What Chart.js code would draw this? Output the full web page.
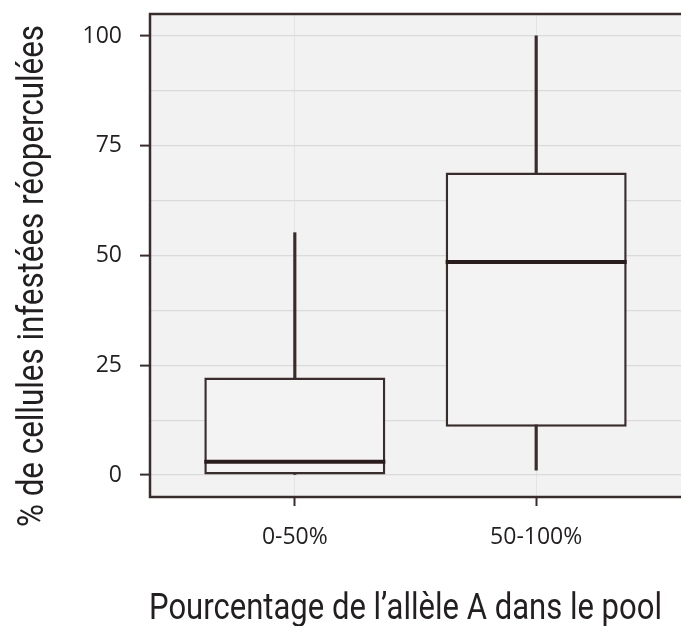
<!DOCTYPE html>
<html>
<head>
<meta charset="utf-8">
<script src="https://cdn.jsdelivr.net/npm/chart.js@4.4.1/dist/chart.umd.min.js"></script>
<style>
  html, body { margin: 0; padding: 0; background: #fff; overflow: hidden; }
</style>
</head>
<body>
<canvas id="chart" width="681" height="626"></canvas>
<script>
// ── Data ──────────────────────────────────────────
const categories = ['0-50%', '50-100%'];
const positions = [1, 2];
const whiskerLow = [0, 1.1];
const boxLow = [0, 11];
const medians = [3, 48.5];
const boxHigh = [22.2, 68.9];
const whiskerHigh = [55.2, 100];
const yMajorTicks = [0, 25, 50, 75, 100];
const yMinorTicks = [12.5, 37.5, 62.5, 87.5];
const yTitle = '% de cellules infestées réoperculées';
const xTitle = 'Pourcentage de l’allèle A dans le pool';

const COLORS = {
    panel: '#f2f2f2',
    grid: '#dadada',
    gridV: '#e4e4e4',
    ink: '#3a2c2d',
    median: '#2a1c1d',
    text: '#231f20',
    boxFill: '#f3f3f3'
};

// ── Plugin: panel, medians, border, axis titles ───
function drawFitted(ctx, text, x, y, width, angle) {
    ctx.save();
    ctx.font = '400 36px Roboto, "Liberation Sans Narrow", sans-serif';
    const w = ctx.measureText(text).width;
    ctx.translate(x, y);
    ctx.rotate(angle);
    ctx.scale(width / w, 1);
    ctx.textAlign = 'center';
    ctx.textBaseline = 'alphabetic';
    ctx.fillStyle = COLORS.text;
    ctx.fillText(text, 0, 0);
    ctx.restore();
}

const boxplotDecor = {
    id: 'boxplotDecor',
    beforeDraw(chart) {
        const { ctx, chartArea: a } = chart;
        ctx.save();
        ctx.fillStyle = COLORS.panel;
        ctx.fillRect(a.left, a.top, a.right - a.left, a.bottom - a.top);
        ctx.restore();
    },
    afterDatasetsDraw(chart) {
        const { ctx } = chart;
        const y = chart.scales.y;
        const meta = chart.getDatasetMeta(1);
        ctx.save();
        ctx.strokeStyle = COLORS.median;
        ctx.lineWidth = 4;
        meta.data.forEach((el, i) => {
            const py = y.getPixelForValue(medians[i]);
            ctx.beginPath();
            ctx.moveTo(el.x - el.width / 2, py);
            ctx.lineTo(el.x + el.width / 2, py);
            ctx.stroke();
        });
        ctx.restore();
    },
    afterDraw(chart) {
        const { ctx, chartArea: a } = chart;
        ctx.save();
        ctx.strokeStyle = COLORS.ink;
        ctx.lineWidth = 2.5;
        ctx.strokeRect(a.left, a.top, a.right - a.left + 4, a.bottom - a.top);
        ctx.restore();
        drawFitted(ctx, xTitle, 405.5, 619, 513, 0);
        drawFitted(ctx, yTitle, 43, 276, 502, -Math.PI / 2);
    }
};

// ── Chart ─────────────────────────────────────────
const tickFont = { family: "'Open Sans', sans-serif", size: 23 };

function clearPadding(s) {
    s.paddingTop = 0;
    s.paddingBottom = 0;
    s.paddingLeft = 0;
    s.paddingRight = 0;
}

new Chart(document.getElementById('chart'), {
    type: 'bar',
    data: {
        datasets: [
            {
                label: 'whiskers',
                data: positions.map((x, i) => ({ x, y: [whiskerLow[i], whiskerHigh[i]] })),
                backgroundColor: COLORS.ink,
                barThickness: 2.5,
                grouped: false,
                order: 2
            },
            {
                label: 'boxes',
                data: positions.map((x, i) => ({ x, y: [boxLow[i], boxHigh[i]] })),
                backgroundColor: COLORS.boxFill,
                borderColor: COLORS.ink,
                borderWidth: 2.5,
                borderSkipped: false,
                categoryPercentage: 1,
                barPercentage: 0.75,
                grouped: false,
                order: 1
            }
        ]
    },
    options: {
        responsive: false,
        animation: false,
        layout: { padding: { top: 14, right: 0, bottom: 0, left: 0 } },
        plugins: {
            legend: { display: false },
            tooltip: { enabled: false }
        },
        scales: {
            x: {
                type: 'linear',
                min: 0.4,
                max: 2.6,
                offset: false,
                afterBuildTicks: s => { s.ticks = positions.map(v => ({ value: v })); },
                afterFit: s => { s.height = 129; clearPadding(s); },
                border: { display: false },
                grid: {
                    offset: false,
                    color: COLORS.gridV,
                    lineWidth: 1,
                    tickLength: 9,
                    tickColor: COLORS.ink,
                    tickWidth: 2
                },
                ticks: {
                    autoSkip: false,
                    maxRotation: 0,
                    padding: 18,
                    font: tickFont,
                    color: COLORS.text,
                    callback: v => categories[positions.indexOf(v)]
                }
            },
            y: {
                min: -5,
                max: 105,
                afterBuildTicks: s => {
                    s.ticks = yMajorTicks.concat(yMinorTicks)
                        .sort((a, b) => a - b)
                        .map(v => ({ value: v }));
                },
                afterFit: s => { s.width = 150; clearPadding(s); },
                border: { display: false },
                grid: {
                    color: COLORS.grid,
                    lineWidth: 1.2,
                    tickLength: 10,
                    tickWidth: 2,
                    tickColor: c => yMajorTicks.includes(c.tick.value) ? COLORS.ink : 'rgba(0,0,0,0)'
                },
                ticks: {
                    autoSkip: false,
                    padding: 18,
                    font: tickFont,
                    color: COLORS.text,
                    callback: v => yMajorTicks.includes(v) ? String(v) : ''
                }
            }
        }
    },
    plugins: [boxplotDecor]
});
</script>
</body>
</html>
